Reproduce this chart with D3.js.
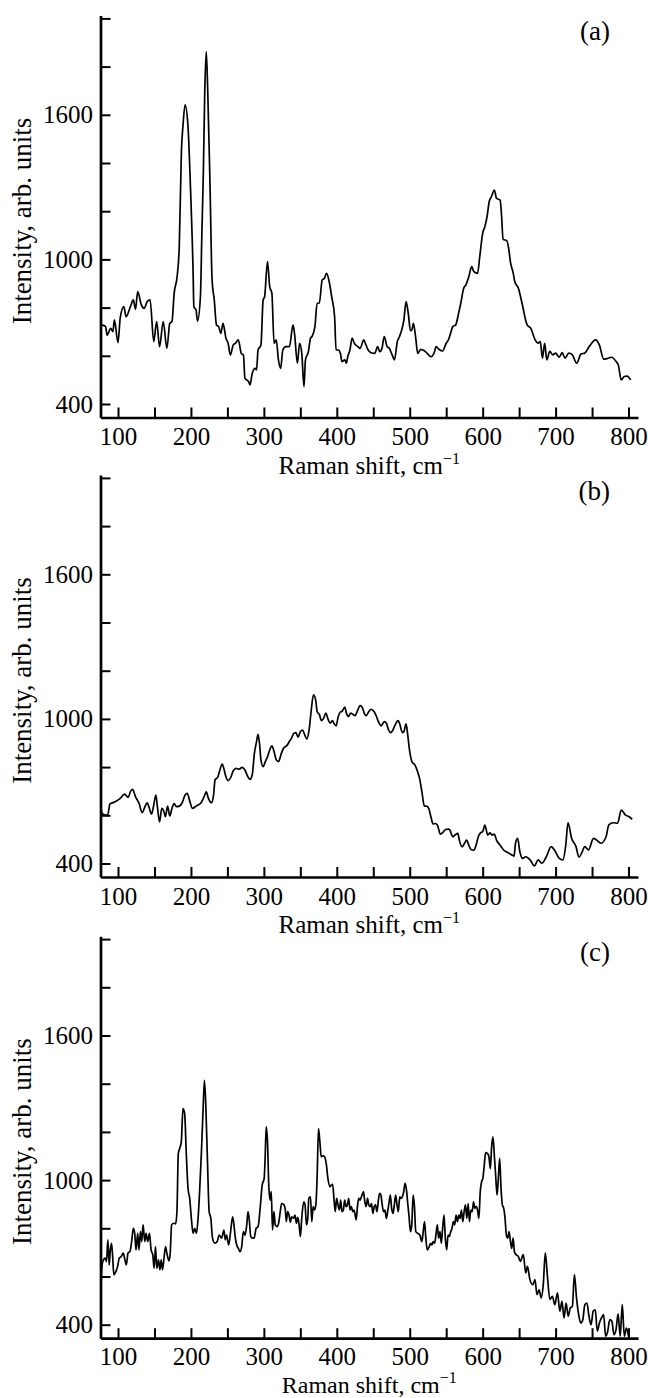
<!DOCTYPE html>
<html><head><meta charset="utf-8">
<script src="https://cdn.jsdelivr.net/npm/d3@7"></script>
<style>body{margin:0;background:#fff} svg{display:block;background:#fff}</style>
</head><body>
<svg id="chart" width="648" height="1398"></svg>
<script>
// ---- Data (Raman shift in cm^-1, intensity in arb. units) ----
const shiftA = [78,83,85,90,93,95,100,103,108,111,117,121,124,127,132,136,140,144,149,153,157,162,167,171,174,177,181,184,187,189,192,196,199,203,204,207,209,213,215,217,219,221,223,226,229,232,235,238,241,244,248,251,254,258,261,265,269,272,274,279,281,284,288,290,292,296,299,301,305,308,311,314,317,320,323,326,330,335,340,342,346,349,352,355,357,361,364,366,370,373,376,380,383,386,390,393,397,399,402,405,407,411,413,415,418,421,424,429,432,437,440,443,447,452,456,459,462,465,469,472,476,479,483,486,489,492,495,498,501,503,505,508,511,515,520,524,529,534,536,540,545,550,553,556,559,563,567,570,574,577,581,585,588,593,596,600,603,606,609,612,616,619,624,626,628,633,636,638,642,644,649,654,661,666,672,676,679,682,685,688,692,696,700,705,709,713,718,723,729,735,740,746,755,760,766,772,777,783,786,790,794,798,803];
const intensityA = [728,721,686,714,700,749,655,756,804,762,804,832,793,866,811,797,825,832,659,742,638,742,631,735,742,859,928,1053,1454,1551,1641,1551,1330,942,804,790,744,845,1108,1357,1703,1862,1703,1330,915,832,728,721,693,735,673,652,603,645,652,666,610,603,507,493,479,527,548,541,624,645,832,845,991,887,859,652,666,583,548,624,638,638,728,693,569,652,610,472,583,617,673,680,721,818,818,915,922,942,901,845,762,624,624,610,576,583,569,596,624,673,652,638,631,666,645,624,613,610,638,617,631,680,638,631,603,583,659,680,707,749,825,776,704,707,735,680,610,627,621,610,596,617,638,627,620,652,666,693,721,728,776,818,880,894,928,970,949,942,1011,1108,1136,1177,1240,1260,1288,1253,1246,1177,1083,1078,1039,991,942,908,880,818,728,714,666,652,659,590,652,583,618,604,611,594,613,590,611,604,569,608,611,638,666,645,586,590,594,576,562,500,514,516,500];

const shiftB = [77,78,83,86,89,96,103,109,114,117,120,124,129,133,137,140,143,146,149,152,154,157,160,163,165,168,171,174,177,180,184,188,192,195,198,202,207,214,218,221,224,228,231,233,237,239,243,245,248,251,255,258,262,266,270,274,278,281,284,287,290,292,294,296,299,302,305,308,311,314,317,320,324,327,331,335,338,341,344,347,350,353,356,359,362,365,368,371,373,376,379,382,385,388,391,394,396,399,402,405,407,411,413,416,419,422,425,428,432,435,438,440,444,447,451,454,458,461,465,468,471,474,477,480,484,486,490,492,495,497,500,503,507,510,514,517,520,523,526,529,532,535,538,542,545,549,553,555,559,562,566,568,572,575,578,581,584,588,591,594,597,600,603,607,610,613,616,619,622,625,629,633,637,641,643,645,648,651,655,659,665,671,676,681,687,694,699,705,710,714,717,722,728,732,736,740,745,752,756,762,769,773,779,785,790,796,801,805];
const intensityB = [622,608,601,604,647,656,670,688,674,698,708,677,649,611,636,652,629,605,643,684,636,573,629,615,594,638,597,629,649,636,638,652,684,691,663,629,638,652,677,697,670,652,684,746,760,781,812,795,760,744,760,785,795,791,799,788,760,749,767,857,906,936,899,830,802,823,843,871,888,864,830,823,857,878,888,906,920,940,943,924,947,954,934,916,954,1037,1100,1079,1031,1019,993,1003,1024,999,982,993,982,971,1010,1029,1031,1049,1026,1010,1024,1019,1013,1031,1055,1047,1021,1013,1031,1040,1031,1013,982,971,989,982,954,943,954,975,993,982,943,947,979,940,864,823,809,788,746,691,638,638,629,594,564,566,559,522,527,541,543,539,511,518,525,497,469,483,497,476,458,455,476,511,527,532,559,518,527,518,522,497,483,472,455,448,441,434,430,483,504,449,421,428,415,390,415,401,426,470,453,421,415,477,569,504,470,426,445,470,456,504,498,484,509,560,569,567,622,601,594,583];

const shiftC = [76.5,77.5,78.5,80.1,82.4,84.2,86.1,87.9,89.3,91.1,92.5,94.3,97.1,99.4,101.7,104.5,107.2,109.5,111.4,113.7,116.4,118.7,121,122.9,124.7,127,128.8,130.7,132.5,134.4,136.7,138.5,140.8,143.1,145.4,147.7,149.5,151.4,153.2,155.5,157.4,159.2,161,163.3,165.2,167,169.8,171.6,173.5,176.2,179,180.8,182.7,184.5,186.8,189.1,191.4,193.7,196,198.3,200.6,202.9,205.2,207.5,209.8,212.1,214.4,216.7,218.5,220.4,222.7,225,227.3,229.6,232.8,236,238.8,242,245.2,247.1,248.9,251.7,254.4,257.2,259,260.4,262.7,265,267.3,269.6,271.9,274.2,276.5,278.3,280.2,282,284.8,286.6,289.4,292.1,294.9,297.7,300.4,301.8,303.2,305,306.9,308.7,310.1,311.9,313.8,315.6,317.9,320.2,322.5,324.3,327.1,329.4,330.8,332.6,334.5,336.3,338.1,340.9,342.7,344.6,346.4,348.3,350.1,351.9,354.7,356.5,358.4,360.2,361.6,363.9,365.7,367.6,369.4,371.3,373.1,374.9,376.8,378.6,380.9,383.2,385.5,387.8,390.6,392.4,394.3,396.1,397.9,399.8,401.6,403.5,405.3,407.1,409,410.8,412.7,414.5,416.3,418.2,420,421.9,423.7,426.5,428.3,430.1,432,433.8,436.6,438.4,440.3,442.1,443.9,445.8,447.6,449.5,451.3,453.1,455,456.8,458.7,460.5,462.3,464.2,466,467.9,469.7,471.5,473.4,475.2,477.1,478.9,480.7,482.6,484.4,486.3,488.1,489.9,491.8,493.6,495.5,497.3,499.1,501,502.8,504.7,506.5,508.3,511.1,513.9,516.6,518.5,520.3,522.1,524,526.7,528.6,530.4,532.3,534.1,535.9,537.8,539.6,541.5,543.3,545.1,547,548.8,550.7,552.5,554.3,556.2,558,559.9,561.7,563.5,565.4,567.2,569.1,570.9,572.7,574.6,576.4,578.3,580.1,581.9,583.8,585.6,587.5,589.3,591.1,593,594.8,596.7,598.5,600.3,602.2,604,606.8,608.6,610.5,612.3,614.1,616,617.8,619.7,621.5,623.3,625.2,627,628.9,630.7,632.5,634.4,636.2,638.1,639.9,641.7,643.6,645.9,648.8,651.7,655.7,659.1,661.4,664.8,668.8,671.7,674.5,677.4,680.2,683.1,685.9,688.8,692.2,695.6,699,702.5,705.9,708.7,711.6,714.4,717.3,720.1,723,725.8,728.7,731.6,734.4,737.3,740.1,743,745.8,748.7,751.5,754.4,757.2,760.1,762.9,765.8,768.6,771.5,774.3,777.2,780,782.9,785.7,788.6,791.4,794.3,797.1,800];
const intensityC = [552,621,655,669,676,662,752,648,704,738,690,607,621,641,676,683,697,669,648,697,704,745,800,779,710,779,710,786,745,814,745,779,745,779,710,690,634,724,634,669,628,669,628,683,724,697,665,697,814,821,818,869,1110,1131,1159,1297,1276,1104,966,924,841,779,800,779,841,966,1117,1297,1414,1310,1076,869,841,759,738,745,772,759,793,752,772,731,786,848,814,772,731,717,703,724,786,772,814,869,828,766,759,759,800,807,883,979,1007,1097,1221,1159,966,917,952,793,869,814,807,821,869,903,899,876,828,869,855,825,848,841,855,821,845,814,766,841,910,897,814,841,924,931,828,890,876,897,1021,1214,1159,1097,1101,1097,1069,1007,972,979,982,924,869,924,897,876,917,869,876,917,890,897,924,876,890,869,876,835,890,924,917,931,952,910,890,924,897,890,903,862,890,897,869,910,945,938,897,869,876,841,869,903,938,883,862,897,938,897,869,931,924,931,952,986,959,903,848,786,814,938,890,786,779,772,745,786,828,759,710,724,738,731,745,738,772,814,759,786,738,800,855,759,710,772,766,786,800,828,814,855,828,855,841,876,828,869,897,841,903,828,876,869,910,883,890,876,841,952,993,1007,1062,1114,1110,1097,1048,1138,1179,1103,1021,938,1007,1090,966,897,883,841,772,759,786,745,717,759,703,690,684,663,691,615,642,587,566,587,525,545,511,566,698,601,504,518,483,532,456,497,428,490,435,469,476,608,511,442,407,421,483,490,435,400,456,462,373,407,428,442,352,373,421,414,359,380,445,352,483,352,386,352];

const panelLabels = ["(a)", "(b)", "(c)"];
const xTickValues = [100,150,200,250,300,350,400,450,500,550,600,650,700,750,800];
const xTickLabels = [100,200,300,400,500,600,700,800];
const yTickValues = [400,600,800,1000,1200,1400,1600,1800,2000];
const yTickLabels = [400,1000,1600];
const xTitle = "Raman shift, cm";
const xTitleSup = "\u22121";
const yTitle = "Intensity, arb. units";

// ---- Layout ----
const FONT = "'Liberation Serif','Times New Roman',Times,serif";
const W = 648, H = 1398;
const svg = d3.select("#chart");
const xDomain = [76, 813];
const yDomain = [344, 2012];
const x = d3.scaleLinear().domain(xDomain).range([100.5, 638]);
const pxPerUnit = 0.241;
const panelY400 = [404, 863.5, 1324.7];
const panelTickPad = [10, 10, 9.5];
const panelTitleSize = [25, 25, 24];

const series = [
  {shift: shiftA, intensity: intensityA},
  {shift: shiftB, intensity: intensityB},
  {shift: shiftC, intensity: intensityC}
];

series.forEach((s, i) => {
  const y400 = panelY400[i];
  const y = d3.scaleLinear().domain(yDomain)
    .range([y400 + (400 - yDomain[0]) * pxPerUnit, y400 - (yDomain[1] - 400) * pxPerUnit]);
  const g = svg.append("g");
  const axisY = y(yDomain[0]);

  // curve
  const pts = s.shift.map((v, j) => [v, s.intensity[j]]);
  const line = d3.line().x(d => x(d[0])).y(d => y(d[1])).curve(d3.curveMonotoneX);
  g.append("path").datum(pts).attr("d", line)
    .attr("fill", "none").attr("stroke", "#000").attr("stroke-width", 1.7)
    .attr("stroke-linejoin", "round");

  // x axis
  const xAxis = d3.axisBottom(x).tickValues(xTickValues)
    .tickSizeInner(-10).tickSizeOuter(0).tickPadding(panelTickPad[i])
    .tickFormat(d => xTickLabels.includes(d) ? d : "");
  const gx = g.append("g").attr("transform", `translate(0,${axisY})`).call(xAxis);

  // y axis
  const yAxis = d3.axisLeft(y).tickValues(yTickValues)
    .tickSizeInner(-10).tickSizeOuter(0).tickPadding(7.5)
    .tickFormat(d => yTickLabels.includes(d) ? d : "");
  const gy = g.append("g").attr("transform", `translate(${x(xDomain[0])},0)`).call(yAxis);

  [gx, gy].forEach(ax => {
    ax.attr("font-family", null).attr("font-size", null);
    ax.select(".domain").attr("stroke", "#000").attr("stroke-width", 2.7);
    ax.selectAll(".tick line").attr("stroke", "#000").attr("stroke-width", 2);
    ax.selectAll(".tick text").attr("fill", "#000")
      .style("font-family", FONT).style("font-size", "25px");
  });

  // x title (kept inside the canvas for the last panel)
  const xt = g.append("text")
    .attr("x", (x.range()[0] + x.range()[1]) / 2)
    .attr("y", Math.min(axisY + 56.5, H - 5.5))
    .attr("text-anchor", "middle")
    .style("font-family", FONT).style("font-size", panelTitleSize[i] + "px").attr("fill", "#000");
  xt.append("tspan").text(xTitle);
  xt.append("tspan").attr("dy", -10).style("font-size", "16px").text(xTitleSup);

  // y title
  g.append("text")
    .attr("transform", `translate(31,${y400 - 183}) rotate(-90)`)
    .attr("text-anchor", "middle")
    .style("font-family", FONT).style("font-size", "27px").attr("fill", "#000")
    .text(yTitle);

  // panel label
  g.append("text")
    .attr("x", 610).attr("y", y400 - 364)
    .attr("text-anchor", "end")
    .style("font-family", FONT).style("font-size", "27px").attr("fill", "#000")
    .text(panelLabels[i]);
});
</script>
</body></html>
